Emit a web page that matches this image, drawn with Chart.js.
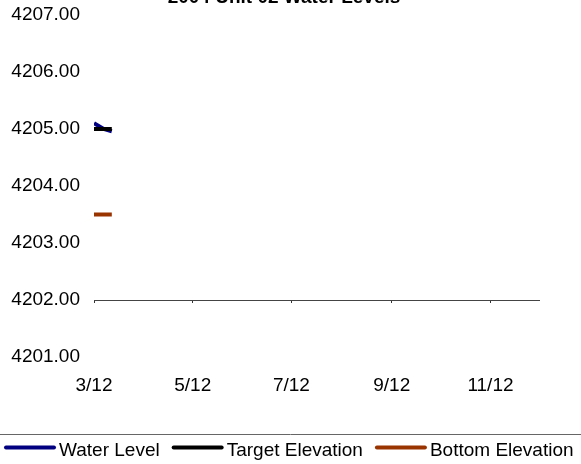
<!DOCTYPE html>
<html>
<head>
<meta charset="utf-8">
<script src="https://cdn.jsdelivr.net/npm/chart.js@4.4.1/dist/chart.umd.min.js"></script>
<style>
  html, body { margin: 0; padding: 0; background: #fff; overflow: hidden; }
  #wrap { width: 581px; height: 464px; }
</style>
</head>
<body>
<div id="wrap"><canvas id="c" width="581" height="464"></canvas></div>
<script>
const chartTitle = '2004 Unit 02 Water Levels';

// x values are days counted from 3/12/2004
const tickDays = [0, 61, 122, 184, 245];
const tickLabels = ['3/12', '5/12', '7/12', '9/12', '11/12'];
const axisEndDay = 275; // 12/12

const waterDays = [0, 6, 11];
const waterLevel = [4205.10, 4205.00, 4204.96];
const targetDays = [0, 11];
const targetElevation = [4205.00, 4205.00];
const bottomDays = [0, 11];
const bottomElevation = [4203.50, 4203.50];

const yMin = 4201, yMax = 4207, yStep = 1;
const axisCrossValue = 4202;

const FONT = "'Liberation Sans', Arial, Helvetica, sans-serif";
const toPoints = (xs, ys) => xs.map((x, i) => ({ x: x, y: ys[i] }));
const setTicks = s => { s.ticks = tickDays.map(v => ({ value: v })); };

// title (partly above the canvas edge), legend frame edge and legend entries
const decor = {
  id: 'decor',
  afterDraw(chart) {
    const ctx = chart.ctx;
    ctx.save();
    ctx.fillStyle = '#000';
    ctx.font = 'bold 19px ' + FONT;
    ctx.textAlign = 'center';
    ctx.textBaseline = 'alphabetic';
    ctx.fillText(chartTitle, 284, 2.5);

    ctx.strokeStyle = '#666';
    ctx.lineWidth = 1;
    ctx.beginPath();
    ctx.moveTo(0, 434.5);
    ctx.lineTo(chart.width, 434.5);
    ctx.stroke();

    ctx.font = '19px ' + FONT;
    ctx.textAlign = 'left';
    const ds = chart.data.datasets;
    const swatch = 52, gapText = 3, gapItem = 12;
    let total = 0;
    ds.forEach((d, i) => {
      total += swatch + gapText + ctx.measureText(d.label).width + (i ? gapItem : 0);
    });
    let x = Math.round((chart.width - total) / 2) - 2;
    const yLine = 447.5, yText = 455.5;
    ds.forEach(d => {
      ctx.strokeStyle = d.borderColor;
      ctx.lineWidth = 4;
      ctx.lineCap = 'round';
      ctx.beginPath();
      ctx.moveTo(x + 2, yLine);
      ctx.lineTo(x + swatch - 2, yLine);
      ctx.stroke();
      x += swatch + gapText;
      ctx.fillText(d.label, x, yText);
      x += ctx.measureText(d.label).width + gapItem;
    });
    ctx.restore();
  }
};

new Chart(document.getElementById('c'), {
  type: 'line',
  data: {
    datasets: [
      { label: 'Water Level', data: toPoints(waterDays, waterLevel),
        borderColor: '#000080', backgroundColor: '#000080', borderWidth: 4,
        pointRadius: 0, tension: 0, order: 2 },
      { label: 'Target Elevation', data: toPoints(targetDays, targetElevation),
        borderColor: '#000000', backgroundColor: '#000000', borderWidth: 4,
        pointRadius: 0, tension: 0, order: 0 },
      { label: 'Bottom Elevation', data: toPoints(bottomDays, bottomElevation),
        borderColor: '#993300', backgroundColor: '#993300', borderWidth: 4,
        pointRadius: 0, tension: 0, order: 1 }
    ]
  },
  options: {
    responsive: false,
    animation: false,
    devicePixelRatio: 1,
    layout: { padding: { top: 15, right: 42, bottom: 0, left: 0 } },
    plugins: {
      legend: { display: false },
      title: { display: false },
      tooltip: { enabled: false }
    },
    scales: {
      x: {
        type: 'linear', position: 'bottom', min: 0, max: axisEndDay,
        grid: { display: false, drawTicks: false }, border: { display: false },
        afterBuildTicks: setTicks,
        afterFit: s => { s.height = 107; s.paddingLeft = 0; s.paddingRight = 0; },
        ticks: {
          autoSkip: false, maxRotation: 0, padding: 17, color: '#000',
          font: { family: FONT, size: 19 },
          callback: v => { const i = tickDays.indexOf(v); return i < 0 ? '' : tickLabels[i]; }
        }
      },
      xCross: {
        type: 'linear', axis: 'x', position: { y: axisCrossValue },
        min: 0, max: axisEndDay,
        afterBuildTicks: setTicks,
        ticks: { display: false },
        grid: { display: true, drawOnChartArea: false, drawTicks: true, tickLength: 2, color: '#333' },
        border: { display: true, color: '#444', width: 1 }
      },
      y: {
        type: 'linear', position: 'left', min: yMin, max: yMax,
        grid: { display: false, drawTicks: false }, border: { display: false },
        afterFit: s => { s.width = 94; s.paddingTop = 0; s.paddingBottom = 0; },
        ticks: {
          stepSize: yStep, padding: 14, color: '#000',
          font: { family: FONT, size: 19 },
          callback: v => Number(v).toFixed(2)
        }
      }
    }
  },
  plugins: [decor]
});
</script>
</body>
</html>
